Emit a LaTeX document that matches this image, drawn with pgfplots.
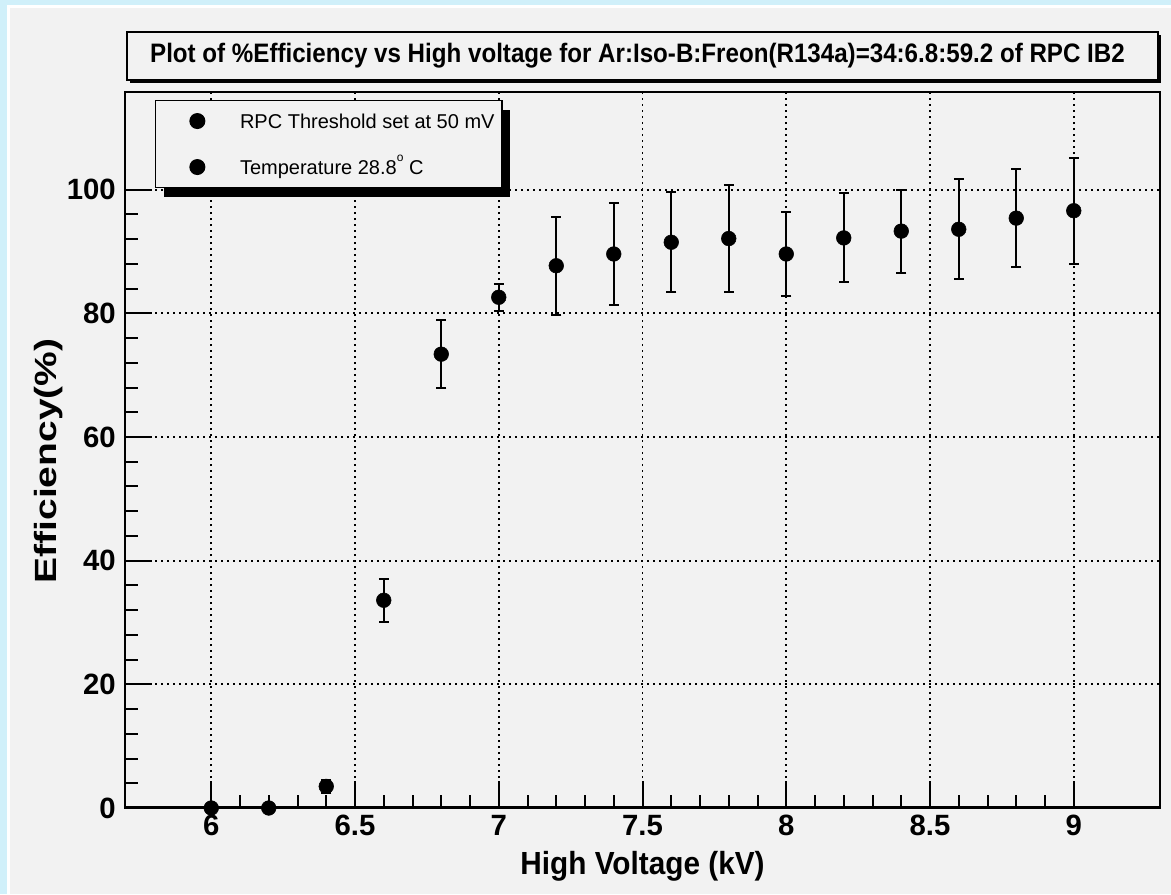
\documentclass[border=0pt]{standalone}
\usepackage{fontspec}
\setmainfont{Liberation Sans}
\usepackage{pgfplots}
\pgfplotsset{compat=1.18}
\usetikzlibrary{shadows}
\definecolor{bgblue}{RGB}{208,240,250}
\definecolor{canvas}{RGB}{242,242,242}
\pgfplotstableread{
x y e
6.0 0.0 0.0
6.2 0.0 0.0
6.4 3.5 1.0
6.6 33.6 3.5
6.8 73.4 5.5
7.0 82.6 2.2
7.2 87.7 7.9
7.4 89.6 8.3
7.6 91.5 8.1
7.8 92.1 8.6
8.0 89.6 6.8
8.2 92.2 7.2
8.4 93.3 6.7
8.6 93.6 8.1
8.8 95.4 7.9
9.0 96.6 8.6
}\effdata
\begin{document}
\begin{tikzpicture}[x=0.75pt,y=0.75pt]
\fill[bgblue] (0,0) rectangle (1171,894);
\fill[white] (7,0) rectangle (1171,889);
\fill[canvas] (10,0) rectangle (1171,886);
% title box
\fill[black] (130,811) rectangle (1161,859);
\draw[line width=1.2pt, fill=canvas] (127,814) rectangle (1158,862);
\node at (637.5,838) {\resizebox{731pt}{14.5pt}{\bfseries Plot of \%Efficiency vs High voltage for Ar:Iso-B:Freon(R134a)=34:6.8:59.2 of RPC IB2}};
\begin{axis}[
  at={(93.75pt,64.5pt)}, anchor=south west,
  scale only axis, width=776.25pt, height=537pt,
  xmin=5.7, xmax=9.3, ymin=0, ymax=115.8,
  xtick={6,6.5,7,7.5,8,8.5,9}, ytick={0,20,40,60,80,100},
  minor x tick num=4, minor y tick num=4,
  xtick pos=bottom, ytick pos=left,
  tick align=inside,
  major tick length=20pt, minor tick length=10pt,
  tick style={line width=1.5pt, black},
  axis line style={line width=1.5pt},
  grid=major,
  grid style={black, line width=1.4pt, dash pattern=on 1.2pt off 3.3pt},
  /pgf/number format/assume math mode=true,
  tick label style={font=\fontsize{22}{22}\selectfont\bfseries, inner sep=0pt},
  xticklabel style={anchor=north, yshift=-5.25pt},
  yticklabel style={anchor=east, xshift=-6.75pt},
  xlabel={\scalebox{0.93}[1]{High Voltage (kV)}},
  ylabel={\scalebox{1.27}[1]{Efficiency(\%)}},
  xlabel style={font=\fontsize{24}{24}\selectfont\bfseries, at={(axis description cs:0.5,-0.0922)}, anchor=base},
  ylabel style={font=\fontsize{23}{23}\selectfont\bfseries, at={(axis description cs:-0.0657,0.4846)}, anchor=base},
  legend style={at={(axis description cs:0.029,0.989)}, anchor=north west,
    fill=canvas, draw=black, line width=1pt,
    font=\fontsize{15}{15}\selectfont,
    inner xsep=25.75pt, inner ysep=7.5pt, row sep=18.75pt,
    nodes={inner sep=0pt, text height=13.5pt, text depth=2.25pt},
    /tikz/column sep=0pt,
    drop shadow={fill=black, opacity=1, shadow xshift=6pt, shadow yshift=-6.75pt}},
  legend cell align=left,
]
\addplot[forget plot, only marks, mark=*, mark size=5.5pt, black,
  error bars/.cd, y dir=both, y explicit,
  error bar style={line width=1.5pt, black},
  error mark options={rotate=90, mark size=3.75pt, line width=1.5pt, black}]
  table[x=x, y=y, y error=e] {\effdata};
\addlegendimage{only marks, mark=*, mark size=5.5pt, black}
\addlegendentry{\hspace*{26.5pt}RPC Threshold set at 50 mV\hspace*{-20.25pt}}
\addlegendimage{only marks, mark=*, mark size=5.5pt, black}
\addlegendentry{\hspace*{26.5pt}Temperature 28.8\raisebox{1.2ex}{\fontsize{9}{9}\selectfont o} C}
\draw[line width=3pt] (rel axis cs:0,0) -- (rel axis cs:1,0);
\end{axis}
\end{tikzpicture}
\end{document}
